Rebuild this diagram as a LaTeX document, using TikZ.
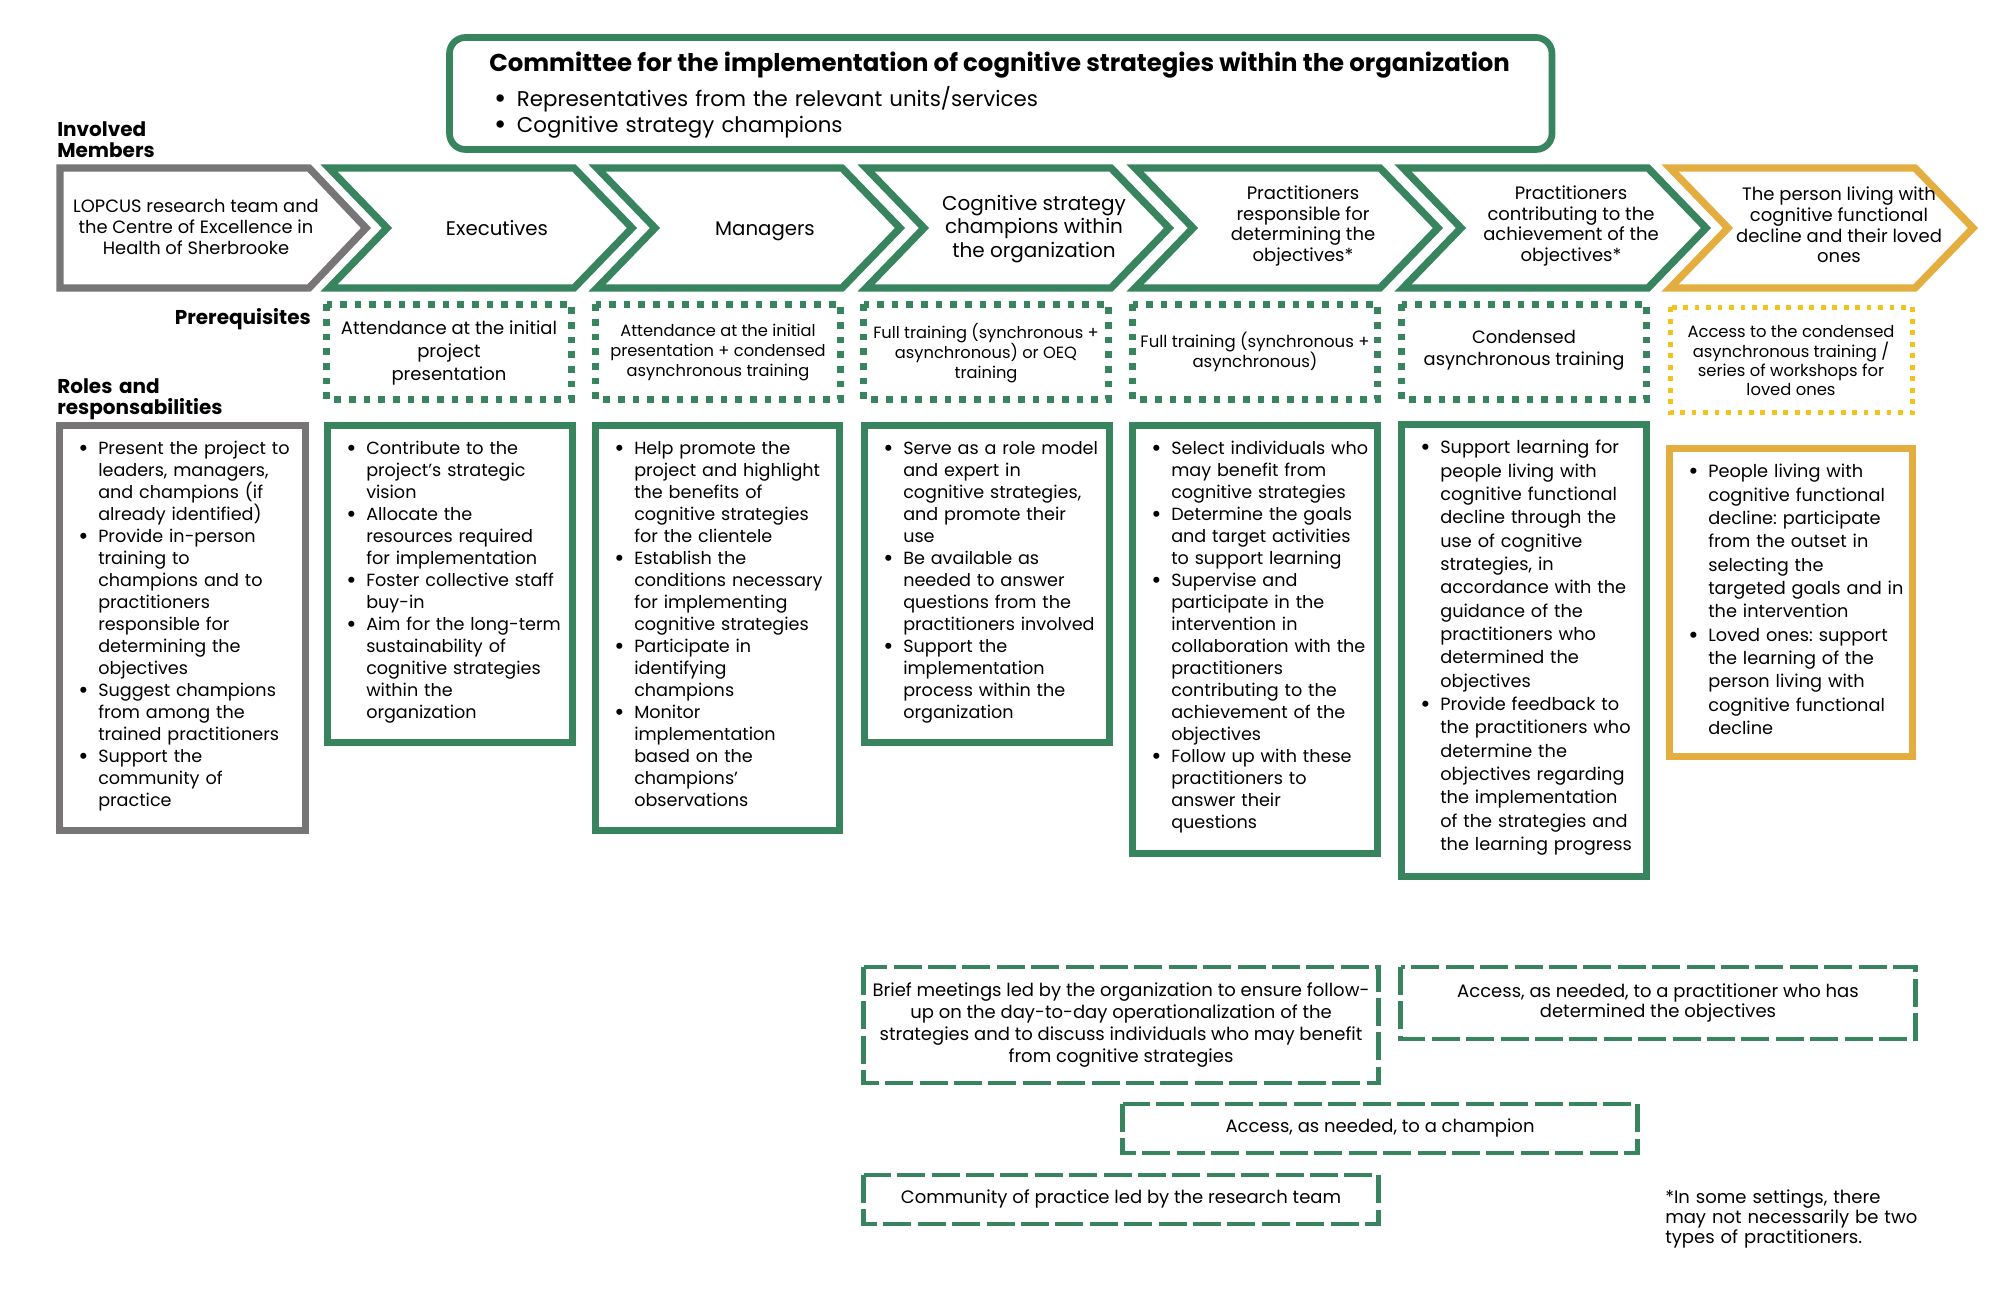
\documentclass[tikz,border=0pt]{standalone}
\usepackage{fontspec}
\setmainfont{Poppins}
\usepackage{tikz}
\usepackage{xcolor}
\usetikzlibrary{positioning}
\frenchspacing

\definecolor{teamgreen}{HTML}{37845F}
\definecolor{teamgrey}{HTML}{777575}
\definecolor{teamgold}{HTML}{E4AD3F}
\definecolor{teamyellow}{HTML}{F3C21C}

\newcommand{\bigdot}{\raisebox{-1.4pt}{\scalebox{1.4}{\textbullet}}}
\newcommand{\bul}{\makebox[15pt][l]{\bigdot}}
\newcommand{\cnt}{\hspace*{15pt}}
\newcommand{\fsbody}{\fontsize{13.2}{16.5}\selectfont}
\newcommand{\fsbig}{\fontsize{13.3}{17.5}\selectfont}
\newcommand{\fschev}{\fontsize{13.5}{15.5}\selectfont}
\newcommand{\fslabel}{\fontsize{15}{15.75}\selectfont\bfseries}

\begin{document}
\begin{tikzpicture}[x=0.75pt, y=-0.75pt, line join=miter,
    every node/.style={inner sep=0pt},
    chev/.style={draw=teamgreen, line width=5.5pt, fill=white},
    prereq/.style={draw=teamgreen, line width=4.8pt, dash pattern=on 5pt off 6pt},
    rolebox/.style={draw=teamgreen, line width=5pt},
    extra/.style={draw=teamgreen, line width=3.2pt, dash pattern=on 21pt off 4.8pt},
    chevtext/.style={align=center, font=\fschev},
    roletext/.style={anchor=base west, align=left, text width=220pt, font=\fsbody},
    lbl/.style={align=left, font=\fslabel}]
  \useasboundingbox (0,0) rectangle (2000,1294);
  % Committee
  \draw[teamgreen, line width=5pt, rounded corners=12pt] (449.5,37.5) rectangle (1552,149.5);
  \node[anchor=base west, font=\fontsize{18.3}{22}\selectfont\bfseries] (committee) at (489,72)
    {Committee for the implementation of cognitive strategies within the organization};
  \node[anchor=base west, align=left, text width=600pt, font=\fontsize{16}{19.5}\selectfont] (members) at (494,107)
    {\makebox[17pt][l]{\bigdot}Representatives from the relevant units/services\\
     \makebox[17pt][l]{\bigdot}Cognitive strategy champions};
  % Row labels
  \node[lbl, anchor=base west, text width=120pt] (involved) at (57,137) {Involved\\Members};
  \node[lbl, anchor=base east] (prereqlbl) at (311,325) {Prerequisites};
  \node[lbl, anchor=base west, text width=150pt] (roleslbl) at (57,394) {Roles and\\responsabilities};
  % Involved members
  \draw[chev, draw=teamgrey] (60,168) -- (309,168) -- (366,228) -- (309,288) -- (60,288) -- cycle;
  \draw[chev] (329,168) -- ++(245,0) -- ++(58,60) -- ++(-58,60) -- ++(-245,0) -- ++(58,-60) -- cycle;
  \draw[chev] (597,168) -- ++(245,0) -- ++(58,60) -- ++(-58,60) -- ++(-245,0) -- ++(58,-60) -- cycle;
  \draw[chev] (866,168) -- ++(245,0) -- ++(58,60) -- ++(-58,60) -- ++(-245,0) -- ++(58,-60) -- cycle;
  \draw[chev] (1135,168) -- ++(245,0) -- ++(58,60) -- ++(-58,60) -- ++(-245,0) -- ++(58,-60) -- cycle;
  \draw[chev] (1403,168) -- ++(245,0) -- ++(58,60) -- ++(-58,60) -- ++(-245,0) -- ++(58,-60) -- cycle;
  \draw[chev, draw=teamgold] (1670,168) -- ++(245,0) -- ++(58,60) -- ++(-58,60) -- ++(-245,0) -- ++(58,-60) -- cycle;
  \node[chevtext, font=\fontsize{13.4}{16.1}\selectfont] (lopcus) at (196,227)
    {LOPCUS research team and\\the Centre of Excellence in\\Health of Sherbrooke};
  \node[chevtext, font=\fontsize{14.8}{17}\selectfont] (execs) at (497,228) {Executives};
  \node[chevtext, font=\fontsize{14.8}{17}\selectfont] (managers) at (765,231) {Managers};
  \node[chevtext, font=\fontsize{15}{17.6}\selectfont] (champs) at (1034,229)
    {Cognitive strategy\\champions within\\the organization};
  \node[chevtext] (pracdet) at (1303,226) {Practitioners\\responsible for\\determining the\\objectives*};
  \node[chevtext] (praccon) at (1571,226) {Practitioners\\contributing to the\\achievement of the\\objectives*};
  \node[chevtext] (person) at (1839,225) {The person living with\\cognitive functional\\decline and their loved\\ones};
  % Prerequisites
  \draw[prereq] (326.5,304.5) rectangle (571.5,399.5);
  \draw[prereq] (595.5,304.5) rectangle (840.5,399.5);
  \draw[prereq] (863.5,304.5) rectangle (1108.5,399.5);
  \draw[prereq] (1132.5,304.5) rectangle (1377.5,399.5);
  \draw[prereq] (1401.5,304.5) rectangle (1646.5,399.5);
  \draw[prereq, draw=teamyellow, line width=4pt, dash pattern=on 3.6pt off 5pt] (1670.5,307.5) rectangle (1912.5,412.5);
  \node[chevtext, font=\fontsize{13.5}{16.9}\selectfont] (pre1) at (449,353)
    {Attendance at the initial\\project\\presentation};
  \node[chevtext, font=\fontsize{12.2}{15}\selectfont] (pre2) at (718,353)
    {Attendance at the initial\\presentation + condensed\\asynchronous training};
  \node[chevtext, font=\fontsize{12.2}{15}\selectfont] (pre3) at (986,353)
    {Full training (synchronous +\\asynchronous) or OEQ\\training};
  \node[chevtext, font=\fontsize{12.4}{15}\selectfont] (pre4) at (1255,352)
    {Full training (synchronous +\\asynchronous)};
  \node[chevtext, font=\fontsize{13.4}{16.5}\selectfont] (pre5) at (1524,350)
    {Condensed\\asynchronous training};
  \node[chevtext, font=\fontsize{12.3}{14.5}\selectfont] (pre6) at (1791,361)
    {Access to the condensed\\asynchronous training /\\series of workshops for\\loved ones};
  % Roles and responsabilities
  \draw[rolebox, draw=teamgrey] (59.5,425.5) rectangle (305.5,830.5);
  \draw[rolebox] (327.5,425.5) rectangle (572.5,742.5);
  \draw[rolebox] (595.5,425.5) rectangle (839.5,830.5);
  \draw[rolebox] (864.5,425.5) rectangle (1109.5,742.5);
  \draw[rolebox] (1132.5,425.5) rectangle (1377.5,853.5);
  \draw[rolebox] (1401.5,424.5) rectangle (1646.5,876.5);
  \draw[rolebox, draw=teamgold] (1669.5,448.5) rectangle (1912.5,756.5);
  \node[roletext] (role1) at (78,455)
    {\bul Present the project to\\\cnt leaders, managers,\\\cnt and champions (if\\\cnt already identified)\\
     \bul Provide in-person\\\cnt training to\\\cnt champions and to\\\cnt practitioners\\\cnt responsible for\\\cnt determining the\\\cnt objectives\\
     \bul Suggest champions\\\cnt from among the\\\cnt trained practitioners\\
     \bul Support the\\\cnt community of\\\cnt practice};
  \node[roletext] (role2) at (346,455)
    {\bul Contribute to the\\\cnt project’s strategic\\\cnt vision\\
     \bul Allocate the\\\cnt resources required\\\cnt for implementation\\
     \bul Foster collective staff\\\cnt buy-in\\
     \bul Aim for the long-term\\\cnt sustainability of\\\cnt cognitive strategies\\\cnt within the\\\cnt organization};
  \node[roletext] (role3) at (614,455)
    {\bul Help promote the\\\cnt project and highlight\\\cnt the benefits of\\\cnt cognitive strategies\\\cnt for the clientele\\
     \bul Establish the\\\cnt conditions necessary\\\cnt for implementing\\\cnt cognitive strategies\\
     \bul Participate in\\\cnt identifying\\\cnt champions\\
     \bul Monitor\\\cnt implementation\\\cnt based on the\\\cnt champions’\\\cnt observations};
  \node[roletext] (role4) at (883,455)
    {\bul Serve as a role model\\\cnt and expert in\\\cnt cognitive strategies,\\\cnt and promote their\\\cnt use\\
     \bul Be available as\\\cnt needed to answer\\\cnt questions from the\\\cnt practitioners involved\\
     \bul Support the\\\cnt implementation\\\cnt process within the\\\cnt organization};
  \node[roletext] (role5) at (1151,455)
    {\bul Select individuals who\\\cnt may benefit from\\\cnt cognitive strategies\\
     \bul Determine the goals\\\cnt and target activities\\\cnt to support learning\\
     \bul Supervise and\\\cnt participate in the\\\cnt intervention in\\\cnt collaboration with the\\\cnt practitioners\\\cnt contributing to the\\\cnt achievement of the\\\cnt objectives\\
     \bul Follow up with these\\\cnt practitioners to\\\cnt answer their\\\cnt questions};
  \node[roletext, font=\fsbig] (role6) at (1420,454)
    {\bul Support learning for\\\cnt people living with\\\cnt cognitive functional\\\cnt decline through the\\\cnt use of cognitive\\\cnt strategies, in\\\cnt accordance with the\\\cnt guidance of the\\\cnt practitioners who\\\cnt determined the\\\cnt objectives\\
     \bul Provide feedback to\\\cnt the practitioners who\\\cnt determine the\\\cnt objectives regarding\\\cnt the implementation\\\cnt of the strategies and\\\cnt the learning progress};
  \node[roletext, font=\fsbig] (role7) at (1688,478)
    {\bul People living with\\\cnt cognitive functional\\\cnt decline: participate\\\cnt from the outset in\\\cnt selecting the\\\cnt targeted goals and in\\\cnt the intervention\\
     \bul Loved ones: support\\\cnt the learning of the\\\cnt person living with\\\cnt cognitive functional\\\cnt decline};
  % Ongoing support
  \draw[extra] (863.5,967) rectangle (1378.5,1083);
  \draw[extra] (1400.5,967) rectangle (1915.5,1039);
  \draw[extra] (1122.5,1104) rectangle (1637.5,1153);
  \draw[extra] (863.5,1175) rectangle (1378.5,1224);
  \node[chevtext, font=\fontsize{13.5}{16.7}\selectfont] (meetings) at (1121,1025)
    {Brief meetings led by the organization to ensure follow-\\up on the day-to-day operationalization of the\\strategies and to discuss individuals who may benefit\\from cognitive strategies};
  \node[chevtext, font=\fontsize{13.5}{14.5}\selectfont] (accessprac) at (1658,1003)
    {Access, as needed, to a practitioner who has\\determined the objectives};
  \node[chevtext, font=\fontsize{13.5}{16.5}\selectfont] (accesschamp) at (1380,1128) {Access, as needed, to a champion};
  \node[chevtext, font=\fontsize{13.5}{16.5}\selectfont] (community) at (1121,1199) {Community of practice led by the research team};
  % Footnote
  \node[anchor=base west, align=left, text width=200pt, font=\fontsize{13.5}{15}\selectfont] (note) at (1665,1203)
    {*In some settings, there\\may not necessarily be two\\types of practitioners.};
\end{tikzpicture}
\end{document}
